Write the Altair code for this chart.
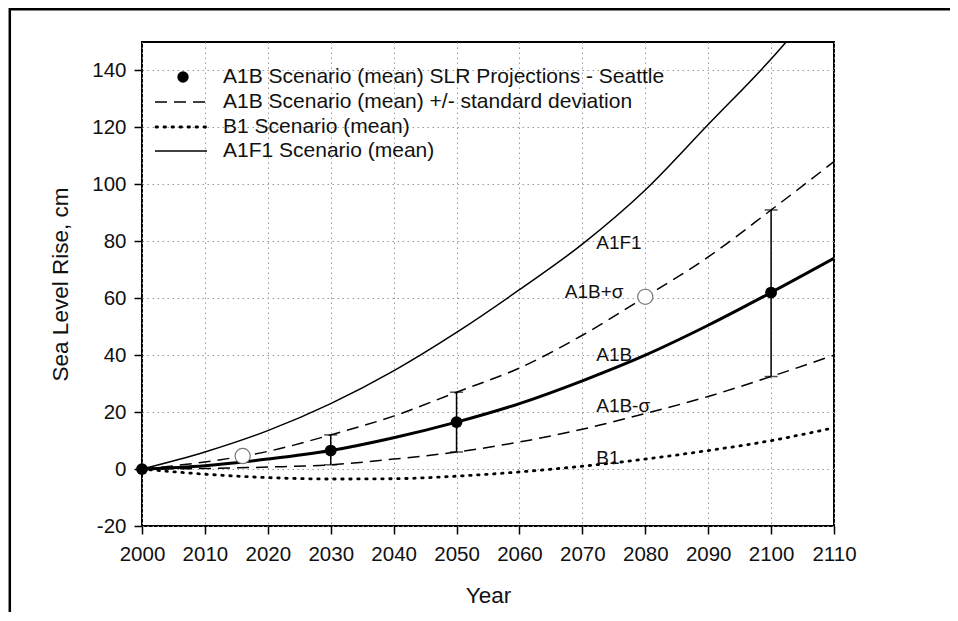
import altair as alt
import pandas as pd

# ---------------- data ----------------
years = [2000, 2010, 2020, 2030, 2040, 2050, 2060, 2070, 2080, 2090, 2100, 2110]
a1b_mean = [0, 1.2, 3.5, 6.5, 11, 16.5, 23, 31, 40, 50.5, 62, 74]
a1b_plus = [0, 2.5, 6.2, 12, 18.6, 27, 35.5, 47, 60.5, 74.5, 91, 108]
a1b_minus = [0, 0.2, 0.7, 1.5, 3.5, 6, 9.5, 14, 19.5, 25.5, 32.5, 40]
b1_mean = [0, -1.8, -3, -3.5, -3.4, -2.5, -1, 1, 3.5, 6.5, 10, 14.5]
a1f1_mean = [0, 6, 13.5, 23, 34.5, 48, 63, 79, 98, 121, 144, 170]

proj_years = [2000, 2030, 2050, 2100]
proj_mean = [0, 6.5, 16.5, 62]
err_years = [2030, 2050, 2100]
err_low = [1.5, 6, 32.5]
err_high = [12, 27, 91]

open_years = [2016, 2080]
open_vals = [4.6, 60.5]

curve_labels = ["A1F1", "A1B+σ", "A1B", "A1B-σ", "B1"]
curve_label_years = [2072.2, 2067.2, 2072.2, 2072.2, 2072.2]
curve_label_vals = [79.3, 62.1, 40.0, 22.1, 3.9]

legend_texts = [
    "A1B Scenario (mean) SLR Projections - Seattle",
    "A1B Scenario (mean) +/- standard deviation",
    "B1 Scenario (mean)",
    "A1F1 Scenario (mean)",
]

x_ticks = list(range(2000, 2111, 10))
y_ticks = list(range(-20, 141, 20))

FONT = "Liberation Sans"

# ---------------- frames ----------------
curves = pd.DataFrame({
    "year": years, "a1b": a1b_mean, "plus": a1b_plus, "minus": a1b_minus,
    "b1": b1_mean, "a1f1": a1f1_mean,
})
proj = pd.DataFrame({"year": proj_years, "val": proj_mean})
errs = pd.DataFrame({"year": err_years, "lo": err_low, "hi": err_high})
opens = pd.DataFrame({"year": open_years, "val": open_vals})
labels = pd.DataFrame({"year": curve_label_years, "val": curve_label_vals, "txt": curve_labels})
one = pd.DataFrame({"a": [0]})

xscale = alt.Scale(domain=[2000, 2110], nice=False, zero=False)
yscale = alt.Scale(domain=[-20, 150], nice=False, zero=False)
xaxis = alt.Axis(values=x_ticks, labelExpr="'' + datum.value", title="Year", grid=True,
                 labelOverlap=False, labelFlush=False)
yaxis = alt.Axis(values=y_ticks, labelExpr="'' + datum.value", title="Sea Level Rise, cm", grid=True,
                 labelOverlap=False, labelFlush=False)


def X(field):
    return alt.X(f"{field}:Q", scale=xscale, axis=xaxis)


def Y(field):
    return alt.Y(f"{field}:Q", scale=yscale, axis=yaxis)


base = alt.Chart(curves)

a1f1_line = base.mark_line(color="black", strokeWidth=1.5, clip=True, interpolate="monotone").encode(
    x=X("year"), y=Y("a1f1"))
plus_line = base.mark_line(color="black", strokeWidth=1.5, strokeDash=[12, 7], clip=True,
                           interpolate="monotone").encode(x=X("year"), y=Y("plus"))
minus_line = base.mark_line(color="black", strokeWidth=1.5, strokeDash=[12, 7], clip=True,
                            interpolate="monotone").encode(x=X("year"), y=Y("minus"))
b1_line = base.mark_line(color="black", strokeWidth=2.8, strokeDash=[1.5, 6.5], strokeCap="round",
                         clip=True, interpolate="monotone").encode(x=X("year"), y=Y("b1"))
a1b_line = base.mark_line(color="black", strokeWidth=3, clip=True, interpolate="monotone").encode(
    x=X("year"), y=Y("a1b"))

err_rule = alt.Chart(errs).mark_rule(color="black", strokeWidth=1.5).encode(
    x=X("year"), y=Y("lo"), y2="hi")
cap_lo = alt.Chart(errs).mark_tick(color="black", orient="horizontal", size=13, thickness=1.5).encode(
    x=X("year"), y=Y("lo"))
cap_hi = alt.Chart(errs).mark_tick(color="black", orient="horizontal", size=13, thickness=1.5).encode(
    x=X("year"), y=Y("hi"))

proj_pts = alt.Chart(proj).mark_point(filled=True, color="black", size=140, opacity=1).encode(
    x=X("year"), y=Y("val"))
open_pts = alt.Chart(opens).mark_point(filled=True, fill="white", stroke="#777", strokeWidth=1.2,
                                       size=230, opacity=1).encode(x=X("year"), y=Y("val"))

curve_text = alt.Chart(labels).mark_text(align="left", baseline="middle", font=FONT, fontSize=19,
                                         color="#111").encode(x=X("year"), y=Y("val"), text="txt:N")

# ---------------- legend (drawn in pixel space) ----------------
leg_rows = [35, 60, 85, 109]
leg_dot = alt.Chart(one).mark_point(filled=True, color="black", size=130, opacity=1).encode(
    x=alt.value(41), y=alt.value(leg_rows[0]))
leg_dash = alt.Chart(one).mark_rule(color="black", strokeWidth=1.5, strokeDash=[12, 7]).encode(
    x=alt.value(13), x2=alt.value(64), y=alt.value(leg_rows[1]))
leg_dot_line = alt.Chart(one).mark_rule(color="black", strokeWidth=2.8, strokeDash=[1.5, 6.5],
                                        strokeCap="round").encode(
    x=alt.value(14), x2=alt.value(64), y=alt.value(leg_rows[2]))
leg_solid = alt.Chart(one).mark_rule(color="black", strokeWidth=1.5).encode(
    x=alt.value(13), x2=alt.value(65), y=alt.value(leg_rows[3]))
leg_text = [
    alt.Chart(one).mark_text(align="left", baseline="middle", font=FONT, fontSize=21,
                             color="#111", text=t).encode(x=alt.value(81), y=alt.value(r))
    for t, r in zip(legend_texts, leg_rows)
]

# ---------------- outer frame (only top & left edges fall inside the canvas) ----------------
frame = alt.Chart(one).mark_rect(fill="white", fillOpacity=0, stroke="black", strokeWidth=2.5).encode(
    x=alt.value(-132.2), x2=alt.value(1000), y=alt.value(-32.8), y2=alt.value(800))

chart = alt.layer(
    frame,
    a1f1_line, plus_line, minus_line, b1_line, a1b_line,
    err_rule, cap_lo, cap_hi, open_pts, proj_pts, curve_text,
    leg_dot, leg_dash, leg_dot_line, leg_solid, *leg_text,
).properties(
    width=692, height=484,
    autosize=alt.AutoSizeParams(type="none"),
    padding={"left": 134, "top": 34, "right": 116, "bottom": 86},
).configure_view(
    stroke="black", strokeWidth=2
).configure_axis(
    labelFont=FONT, titleFont=FONT, labelFontSize=20.5, titleFontSize=22.5,
    labelColor="#111", titleColor="#111", titleFontWeight="normal",
    domain=False, tickColor="black", tickWidth=1.5, tickSize=8,
    gridColor="#999", gridDash=[1.5, 3.5], gridWidth=1,
).configure_axisX(
    labelPadding=10, titlePadding=20,
).configure_axisY(
    labelPadding=8, titlePadding=19,
)

chart.save("out.html", embed_options={"renderer": "svg", "actions": False})
